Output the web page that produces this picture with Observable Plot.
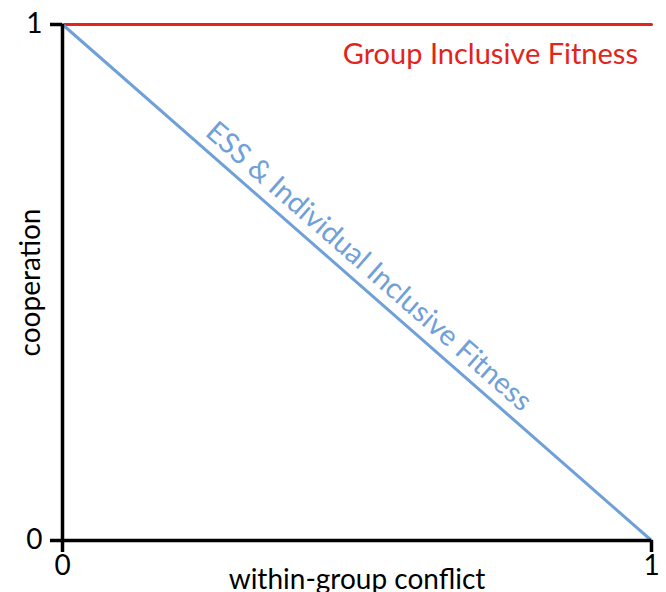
<!DOCTYPE html>
<html>
<head>
<meta charset="utf-8">
<script src="https://cdn.jsdelivr.net/npm/d3@7"></script>
<script src="https://cdn.jsdelivr.net/npm/@observablehq/plot@0.6"></script>
<style>
  html, body { margin: 0; padding: 0; background: #fff; }
  svg { display: block; }
</style>
</head>
<body>
<div id="chart"></div>
<script>
// Data
const conflict = [0, 1];                 // within-group conflict
const groupFitness = [1, 1];             // Group Inclusive Fitness (red)
const essFitness = [1, 0];               // ESS & Individual Inclusive Fitness (blue)
const tickValues = [0, 1];
const tickLabels = ["0", "1"];

const seriesNames = ["Group Inclusive Fitness", "ESS & Individual Inclusive Fitness"];
const labelX = [0.977, 0.52];
const labelY = [0.942, 0.531];
const labelAngle = [0, 41.2];

const xLabel = "within-group conflict";
const yLabel = "cooperation";

const red = "#e3241b";
const blue = "#6fa0d8";
const font = "Lato, 'Open Sans', sans-serif";

const groupData = conflict.map((x, i) => ({x, y: groupFitness[i]}));
const essData = conflict.map((x, i) => ({x, y: essFitness[i]}));

const chart = Plot.plot({
  width: 666,
  height: 592,
  marginLeft: 62,
  marginRight: 15,
  marginTop: 24,
  marginBottom: 52,
  style: {fontFamily: font, background: "#fff", overflow: "visible"},
  x: {domain: [0, 1]},
  y: {domain: [0, 1]},
  marks: [
    Plot.lineY(groupData, {x: "x", y: "y", stroke: red, strokeWidth: 3}),
    Plot.lineY(essData, {x: "x", y: "y", stroke: blue, strokeWidth: 3}),
    Plot.ruleX([0], {stroke: "black", strokeWidth: 3.5}),
    Plot.ruleY([0], {stroke: "black", strokeWidth: 3.5}),
    Plot.axisX({ticks: tickValues, tickFormat: (d, i) => tickLabels[i], tickSize: 12, tickPadding: 3,
      strokeWidth: 3.5, fontSize: 28, fill: "black", label: null}),
    Plot.axisY({ticks: tickValues, tickFormat: (d, i) => tickLabels[i], tickSize: 12, tickPadding: 8,
      strokeWidth: 3.5, fontSize: 28, fill: "black", label: null}),
    Plot.text([seriesNames[0]], {x: labelX[0], y: labelY[0], text: d => d, fill: red, fontSize: 29,
      textAnchor: "end", lineAnchor: "middle", rotate: labelAngle[0]}),
    Plot.text([seriesNames[1]], {x: labelX[1], y: labelY[1], text: d => d, fill: blue, fontSize: 29,
      textAnchor: "middle", lineAnchor: "middle", rotate: labelAngle[1]}),
    Plot.text([xLabel], {frameAnchor: "bottom", text: d => d, dy: 29, lineAnchor: "top", fontSize: 28, fill: "black"}),
    Plot.text([yLabel], {frameAnchor: "left", text: d => d, dx: -31, rotate: -90, textAnchor: "middle",
      lineAnchor: "middle", fontSize: 28, fill: "black"})
  ]
});
document.getElementById("chart").appendChild(chart);
</script>
</body>
</html>
